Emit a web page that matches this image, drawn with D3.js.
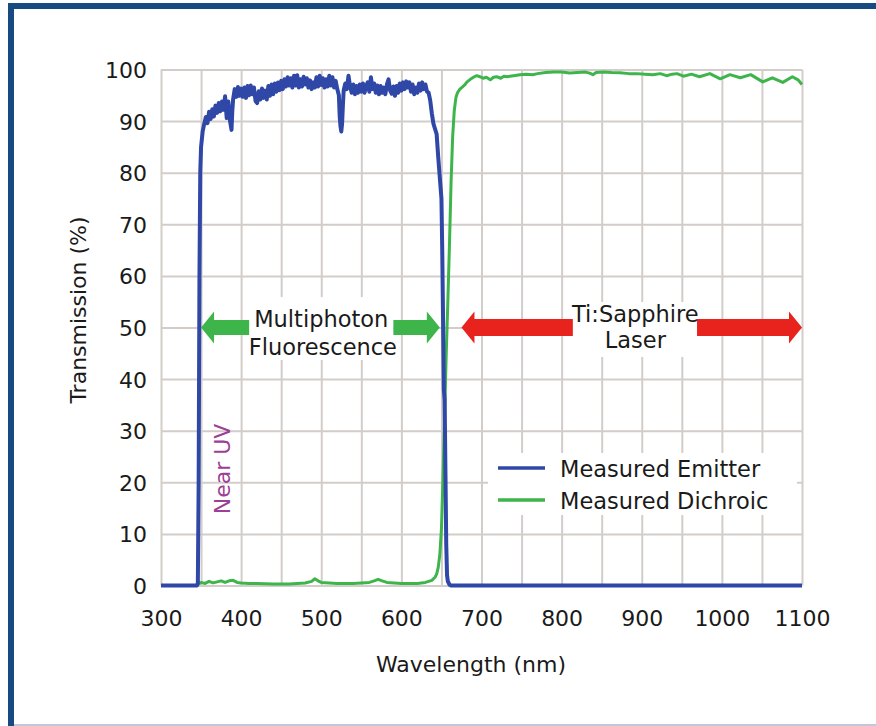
<!DOCTYPE html>
<html>
<head>
<meta charset="utf-8">
<script src="https://cdn.jsdelivr.net/npm/d3@7"></script>
<style>
  html, body { margin: 0; padding: 0; background: #ffffff; }
  svg { display: block; }
  text { font-family: "DejaVu Sans", sans-serif; fill: #1a1a1a; }
</style>
</head>
<body>
<svg id="chart" width="876" height="726"></svg>
<script>
// ---------------- DATA ----------------
const xTicks = [300, 400, 500, 600, 700, 800, 900, 1000, 1100];
const yTicks = [0, 10, 20, 30, 40, 50, 60, 70, 80, 90, 100];
const xGrid = [300, 350, 400, 450, 500, 550, 600, 650, 700, 750, 800, 850, 900, 950, 1000, 1050, 1100];

const seriesNames = ["Measured Emitter", "Measured Dichroic"];

// Measured Emitter: [wavelength nm, transmission %]
const emitter = [
  [300,0],[345,0],[346,0.5],[347,20],[348,60],[349,80],[350,85],[352,88],[354,89.5],[356,90.8],
  [358,89.6],[360,91.8],[362,90.4],[364,92.3],[366,90.9],[368,93],[370,91.6],[372,93.5],[374,91.9],[376,93.8],
  [378,92.2],[380,94.8],[382,90.6],[384,93.8],[386,90.2],[388,88.3],[389,92],[390,94.2],[392,96.2],[394,94.7],
  [396,96.6],[398,94.9],[400,96.3],[402,94.7],[404,96.5],[406,94.5],[408,96.8],[410,95],[412,96.9],[414,95.2],
  [416,96.5],[418,93.9],[420,93.5],[422,95.8],[424,94.2],[426,96.3],[428,94.5],[430,95.9],[432,94.2],[434,96.8],
  [436,94.9],[438,97.1],[440,95.2],[442,97.3],[444,95.7],[446,97.5],[448,96],[450,97.8],[452,96.2],[454,98.1],
  [456,96.7],[458,98.5],[460,96.9],[462,98.3],[464,96.5],[466,98.8],[468,96.9],[470,98.9],[472,96.5],[474,98.1],
  [476,96.7],[478,98.6],[480,97.1],[482,98.3],[484,96.5],[486,97.9],[488,96.2],[490,97.5],[492,96.5],[494,98.5],
  [496,96.7],[498,98.8],[500,97],[502,98.3],[504,96.5],[506,98.1],[508,96.7],[510,98.8],[512,96.9],[514,98.5],
  [516,96.5],[518,97.8],[520,96.2],[522,95],[523,91],[524,89],[525,88],[526,89.5],[527,93],[528,96],
  [530,97.3],[532,96.2],[534,98.8],[536,96.7],[538,95.5],[540,97.1],[542,95.2],[544,96.8],[546,95.5],[548,97.1],
  [550,95.7],[552,97.3],[554,95.5],[556,96.8],[558,97.5],[560,95.7],[562,98.5],[564,96.2],[566,97.3],[568,95.5],
  [570,96.9],[572,95.2],[574,96.8],[576,95.5],[578,96.5],[580,95.2],[582,97.1],[584,98.1],[586,95.9],[588,95.3],
  [590,96.7],[592,94.9],[594,96.8],[596,95.5],[598,97.3],[600,95.9],[602,97.5],[604,96.2],[606,97.7],[608,96.5],
  [610,97.5],[612,95.7],[614,97.1],[616,95.2],[618,96.5],[620,95.5],[622,97.3],[624,95.9],[626,97.5],[628,96.2],
  [630,97.1],[632,95.7],[634,95.5],[636,94],[638,91.5],[640,89.5],[642,88.5],[644,87.5],[646,83],[648,79],
  [650,75],[651,65],[652,52],[653,38],[654,36],[655,22],[656,8],[657,2],[658,0.8],[660,0.2],[662,0],[1100,0]
];

// Measured Dichroic: [wavelength nm, transmission %]
const dichroic = [
  [300,0],[345,0],[347,0.3],[350,0.6],[355,0.4],[360,0.8],[365,0.5],[370,0.7],[375,0.9],[380,0.6],
  [385,0.9],[390,1.0],[395,0.6],[400,0.5],[410,0.4],[420,0.4],[440,0.3],[460,0.3],[480,0.5],[488,0.8],
  [492,1.3],[496,0.9],[500,0.6],[510,0.5],[520,0.4],[540,0.4],[560,0.6],[566,0.9],[571,1.2],[576,0.9],
  [582,0.6],[600,0.4],[620,0.4],[630,0.6],[638,1.0],[642,1.6],[644,2.2],[646,3.5],[648,6],[650,11],
  [652,21],[654,33],[656,45],[658,55],[660,66],[662,78],[664,87],[666,92],[668,94.5],[670,95.5],
  [673,96.2],[676,96.6],[679,97],[682,97.6],[686,98.1],[690,98.5],[694,98.8],[698,98.6],[702,98.3],[706,98.5],
  [711,98.0],[715,98.5],[719,98.6],[724,98.3],[728,98.7],[732,98.6],[740,98.8],[748,99.0],[756,99.1],[764,99.0],
  [770,99.2],[780,99.4],[790,99.5],[800,99.5],[810,99.3],[820,99.4],[830,99.5],[835,99.3],[839,99.0],[843,99.4],
  [852,99.5],[862,99.4],[873,99.35],[884,99.2],[894,99.2],[904,99.1],[914,99.0],[923,99.2],[931,98.8],[938,99.1],
  [944,99.2],[952,98.7],[962,99.1],[972,98.6],[985,99.2],[998,98.2],[1010,99.0],[1023,98.4],[1036,99.0],[1051,97.6],
  [1063,98.4],[1076,97.5],[1088,98.6],[1095,98.0],[1100,97.1]
];

// Annotations (data units)
const fluorescenceArrows = [[410, 350], [590, 648]];   // [shaft end, tip]
const laserArrows = [[814, 675], [969, 1100]];
const fluorescenceLabel = ["Multiphoton", "Fluorescence"];
const laserLabel = ["Ti:Sapphire", "Laser"];
const nearUVLabel = "Near UV";

// ---------------- DRAW ----------------
const svg = d3.select("#chart");
const W = 876, H = 726;
const x = d3.scaleLinear().domain([300, 1100]).range([161, 802]);
const y = d3.scaleLinear().domain([0, 100]).range([585.5, 69.5]);

svg.append("rect").attr("width", W).attr("height", H).attr("fill", "#ffffff");

// frame
svg.append("rect").attr("x", 8).attr("y", 3).attr("width", W - 8).attr("height", 6).attr("fill", "#184a82");
svg.append("rect").attr("x", 8).attr("y", 3).attr("width", 6).attr("height", H - 3).attr("fill", "#184a82");
svg.append("line").attr("x1", 14).attr("x2", W).attr("y1", 725).attr("y2", 725)
  .attr("stroke", "#a9b8cd").attr("stroke-width", 1.5);

const gridColor = "#d3cdca";
// grid via axes
const gx = svg.append("g").attr("transform", `translate(0,${y(0)})`)
  .call(d3.axisBottom(x).tickValues(xGrid).tickSize(-(y(0) - y(100))).tickFormat(""));
const gy = svg.append("g").attr("transform", `translate(${x(300)},0)`)
  .call(d3.axisLeft(y).tickValues(yTicks).tickSize(-(x(1100) - x(300))).tickFormat(""));
[gx, gy].forEach(g => {
  g.select(".domain").remove();
  g.selectAll(".tick line").attr("stroke", gridColor).attr("stroke-width", 2);
});

// tick labels
const xl = svg.append("g").attr("transform", `translate(0,${y(0)})`)
  .call(d3.axisBottom(x).tickValues(xTicks).tickSize(0).tickPadding(0).tickFormat(d3.format("d")));
xl.select(".domain").remove();
xl.selectAll("text").attr("font-size", 22).attr("font-family", "DejaVu Sans").attr("fill", "#1a1a1a")
  .attr("dy", null).attr("y", 40);

const yl = svg.append("g").attr("transform", `translate(${x(300)},0)`)
  .call(d3.axisLeft(y).tickValues(yTicks).tickSize(0).tickPadding(14).tickFormat(d3.format("d")));
yl.select(".domain").remove();
yl.selectAll("text").attr("font-size", 22).attr("font-family", "DejaVu Sans").attr("fill", "#1a1a1a")
  .attr("dy", "0.36em");

// axis titles
svg.append("text").attr("x", 471).attr("y", 672).attr("text-anchor", "middle")
  .attr("font-size", 22).text("Wavelength (nm)");
svg.append("text").attr("transform", "translate(86,310) rotate(-90)").attr("text-anchor", "middle")
  .attr("font-size", 22).text("Transmission (%)");

// label white boxes
svg.append("rect").attr("x", x(406)).attr("y", 297).attr("width", x(590) - x(406)).attr("height", 63).attr("fill", "#ffffff");
svg.append("rect").attr("x", x(814)).attr("y", 302).attr("width", x(969) - x(814)).attr("height", 55).attr("fill", "#ffffff");

// arrows
function arrow(shaftEnd, tip, color, shaftH) {
  const y0 = y(50);
  const dir = tip > shaftEnd ? 1 : -1;
  const headLen = 13, headH = 32;
  const xt = x(tip), xs = x(shaftEnd), xh = xt - dir * headLen;
  const pts = [
    [xs, y0 - shaftH / 2], [xh, y0 - shaftH / 2], [xh, y0 - headH / 2], [xt, y0],
    [xh, y0 + headH / 2], [xh, y0 + shaftH / 2], [xs, y0 + shaftH / 2]
  ];
  svg.append("path").attr("d", "M" + pts.map(p => p.join(",")).join("L") + "Z").attr("fill", color);
}
fluorescenceArrows.forEach(a => arrow(a[0], a[1], "#3db54a", 15));
laserArrows.forEach(a => arrow(a[0], a[1], "#e8231e", 17));

// arrow labels
svg.append("text").attr("x", x(500)).attr("y", 327).attr("text-anchor", "middle").attr("font-size", 22.5).text(fluorescenceLabel[0]);
svg.append("text").attr("x", x(502)).attr("y", 355).attr("text-anchor", "middle").attr("font-size", 22.5).text(fluorescenceLabel[1]);
svg.append("text").attr("x", x(892)).attr("y", 322).attr("text-anchor", "middle").attr("font-size", 22.5).text(laserLabel[0]);
svg.append("text").attr("x", x(892)).attr("y", 348).attr("text-anchor", "middle").attr("font-size", 22.5).text(laserLabel[1]);

// Near UV
svg.append("text").attr("transform", "translate(230,469) rotate(-90)").attr("text-anchor", "middle")
  .attr("font-size", 22).style("fill", "#9c3f96").text(nearUVLabel);

// legend box
svg.append("rect").attr("x", 488).attr("y", 453).attr("width", 309).attr("height", 62).attr("fill", "#ffffff");

// lines
const line = d3.line().x(d => x(d[0])).y(d => y(d[1]));
svg.append("path").datum(dichroic).attr("d", line).attr("fill", "none")
  .attr("stroke", "#3db54a").attr("stroke-width", 3).attr("stroke-linejoin", "round");
svg.append("path").datum(emitter).attr("d", line).attr("fill", "none")
  .attr("stroke", "#2f47a6").attr("stroke-width", 4).attr("stroke-linejoin", "round");

// legend
const colors = ["#2f47a6", "#3db54a"];
seriesNames.forEach((n, i) => {
  const ly = 468 + i * 32;
  svg.append("line").attr("x1", 498).attr("x2", 545).attr("y1", ly).attr("y2", ly)
    .attr("stroke", colors[i]).attr("stroke-width", 3.5);
  svg.append("text").attr("x", 560).attr("y", ly + 8.5).attr("font-size", 22.5).text(n);
});
</script>
</body>
</html>
